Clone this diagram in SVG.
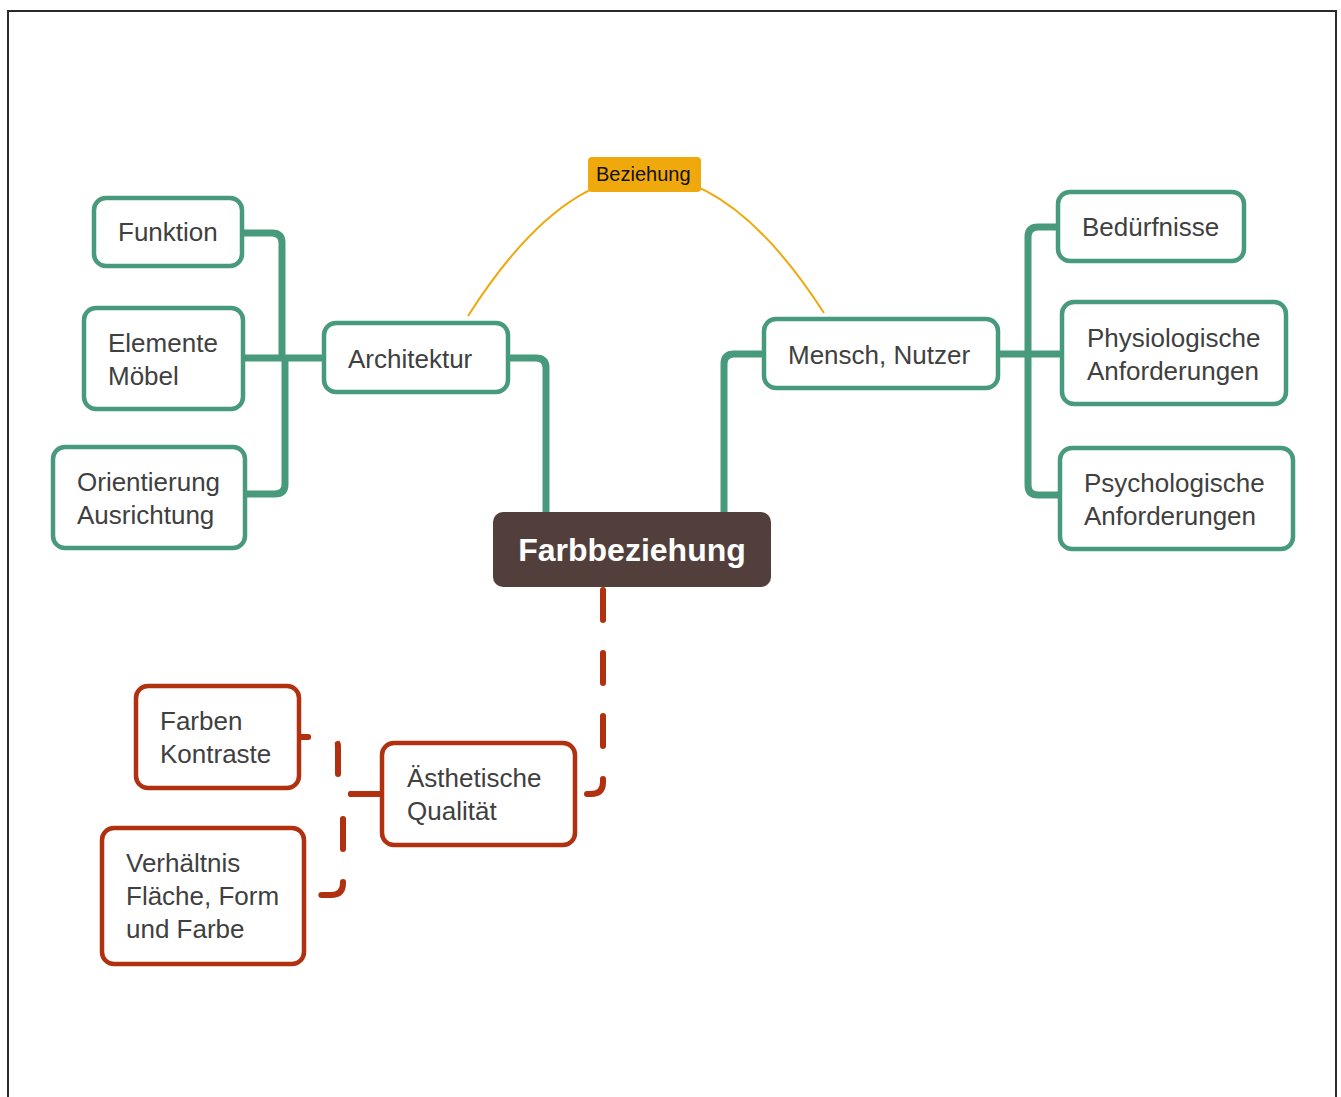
<svg xmlns="http://www.w3.org/2000/svg" width="1341" height="1097" viewBox="0 0 1341 1097">
<style>
.g{fill:#fff;stroke:#489A7D;stroke-width:4.5}
.r{fill:#fff;stroke:#B0300F;stroke-width:4.5}
.t{font-family:"Liberation Sans",Arial,sans-serif;font-size:26px;fill:#404040}
.cg{fill:none;stroke:#489A7D;stroke-width:7;stroke-linejoin:round}
.cr{fill:none;stroke:#B0300F;stroke-width:6;stroke-linecap:round;stroke-dasharray:30 33}
</style>
<rect x="0" y="0" width="1341" height="1097" fill="#fff"/>
<path d="M8,1097 V11 H1336 V1097" fill="none" stroke="#2b2b2b" stroke-width="2"/>
<g id="connectors">
<path class="cg" d="M508,358 H536 Q546,358 546,368 V513"/>
<path class="cg" d="M763,354 H734 Q724,354 724,364 V513"/>
<path class="cg" d="M243,233 H272 Q282,233 282,243 V358"/>
<path class="cg" d="M243,358 H324"/>
<path class="cg" d="M245,494 H275 Q285,494 285,484 V358"/>
<path class="cg" d="M998,354 H1062"/>
<path class="cg" d="M1058,227 H1038 Q1028,227 1028,237 V354"/>
<path class="cg" d="M1060,495 H1038 Q1028,495 1028,485 V354"/>
<path class="cr" d="M603,590 V782 Q603,794 591,794 H587"/>
<path class="cr" d="M381,794 H338 V747 Q338,737 328,737 H299"/>
<path class="cr" d="M381,794 H343 V883 Q343,895 331,895 H304"/>
<path d="M468,316 Q646,37 824,313" fill="none" stroke="#EFA90C" stroke-width="2"/>
</g>
<g id="n-funktion"><rect class="g" x="94" y="198" width="148" height="68" rx="12"/><text class="t" x="118" y="241">Funktion</text></g>
<g id="n-elemente"><rect class="g" x="84" y="308" width="159" height="101" rx="12"/><text class="t" x="108" y="352">Elemente</text><text class="t" x="108" y="385">Möbel</text></g>
<g id="n-orientierung"><rect class="g" x="53" y="447" width="192" height="101" rx="12"/><text class="t" x="77" y="491">Orientierung</text><text class="t" x="77" y="524">Ausrichtung</text></g>
<g id="n-architektur"><rect class="g" x="324" y="323" width="184" height="69" rx="12"/><text class="t" x="348" y="368">Architektur</text></g>
<g id="n-mensch"><rect class="g" x="764" y="319" width="234" height="69" rx="12"/><text class="t" x="788" y="364">Mensch, Nutzer</text></g>
<g id="n-beduerfnisse"><rect class="g" x="1058" y="192" width="186" height="69" rx="12"/><text class="t" x="1082" y="236">Bedürfnisse</text></g>
<g id="n-physiologische"><rect class="g" x="1062" y="302" width="224" height="102" rx="12"/><text class="t" x="1087" y="347">Physiologische</text><text class="t" x="1087" y="380">Anforderungen</text></g>
<g id="n-psychologische"><rect class="g" x="1060" y="448" width="233" height="101" rx="12"/><text class="t" x="1084" y="492">Psychologische</text><text class="t" x="1084" y="525">Anforderungen</text></g>
<g id="n-farbbeziehung"><rect x="493" y="512" width="278" height="75" rx="10" fill="#523F3C"/><text x="632" y="561" text-anchor="middle" font-family="'Liberation Sans',Arial,sans-serif" font-size="32" font-weight="bold" fill="#fff">Farbbeziehung</text></g>
<g id="n-beziehung"><rect x="588" y="157" width="113" height="35" rx="4" fill="#EFA90C"/><text x="596" y="181" font-family="'Liberation Sans',Arial,sans-serif" font-size="20" fill="#111">Beziehung</text></g>
<g id="n-farben"><rect class="r" x="136" y="686" width="163" height="102" rx="12"/><text class="t" x="160" y="730">Farben</text><text class="t" x="160" y="763">Kontraste</text></g>
<g id="n-aesthetische"><rect class="r" x="382" y="743" width="193" height="102" rx="12"/><text class="t" x="407" y="787">Ästhetische</text><text class="t" x="407" y="820">Qualität</text></g>
<g id="n-verhaeltnis"><rect class="r" x="102" y="828" width="202" height="136" rx="12"/><text class="t" x="126" y="872">Verhältnis</text><text class="t" x="126" y="905">Fläche, Form</text><text class="t" x="126" y="938">und Farbe</text></g>
</svg>
